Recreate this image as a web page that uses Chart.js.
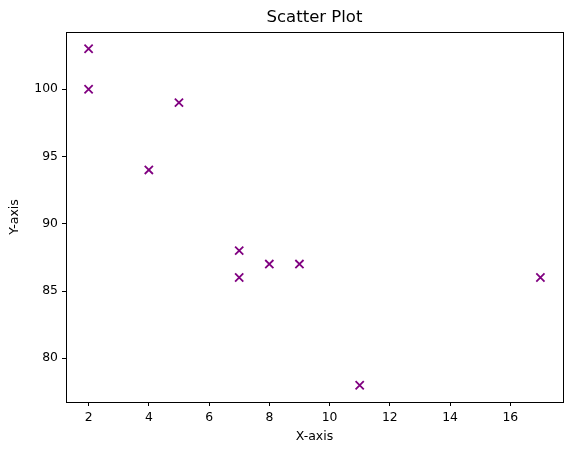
<!DOCTYPE html>
<html>
<head>
<meta charset="utf-8">
<script src="https://cdn.jsdelivr.net/npm/chart.js@4"></script>
<style>
  html, body { margin: 0; padding: 0; background: #fff; }
  #wrap { width: 571px; height: 455px; }
</style>
</head>
<body>
<div id="wrap"><canvas id="chart-area"></canvas></div>
<script>
var xValues = [2, 2, 4, 5, 7, 7, 8, 9, 11, 17];
var yValues = [103, 100, 94, 99, 88, 86, 87, 87, 78, 86];
var xTicks  = [2, 4, 6, 8, 10, 12, 14, 16];
var yTicks  = [80, 85, 90, 95, 100];

var points = [];
for (var i = 0; i < xValues.length; ++i)
    points.push({x: xValues[i], y: yValues[i]});

var font = "'DejaVu Sans', sans-serif";

// frame + titles, placed like the matplotlib figure
var decor = {
    id: 'decor',
    afterDraw: function (chart) {
        var c = chart.ctx, a = chart.chartArea;
        c.save();
        c.strokeStyle = '#000';
        c.lineWidth = 1;
        c.strokeRect(Math.round(a.left) + 0.5, Math.round(a.top) + 0.5,
                     Math.round(a.right - a.left), Math.round(a.bottom - a.top));
        c.fillStyle = '#000';
        c.textAlign = 'center';
        c.textBaseline = 'middle';
        var cx = (a.left + a.right) / 2;
        c.font = '16.5px ' + font;
        c.fillText('Scatter Plot', cx, 18);
        c.font = '12.5px ' + font;
        c.fillText('X-axis', cx, 437);
        c.translate(15, (a.top + a.bottom) / 2);
        c.rotate(-Math.PI / 2);
        c.fillText('Y-axis', 0, 0);
        c.restore();
    }
};

var config = {
    type: 'scatter',
    data: {
        datasets: [{
            data: points,
            pointStyle: 'crossRot',
            pointRadius: 5.8,
            pointHoverRadius: 5.8,
            borderColor: '#800080',
            backgroundColor: '#800080',
            borderWidth: 1.8
        }]
    },
    options: {
        responsive: true,
        maintainAspectRatio: false,
        animation: false,
        layout: { padding: { left: 0, right: 8, top: 32, bottom: 0 } },
        plugins: { legend: { display: false }, tooltip: { enabled: false } },
        scales: {
            x: {
                type: 'linear',
                min: 1.25,
                max: 17.75,
                afterFit: function (s) { s.height = 53; },
                afterBuildTicks: function (s) {
                    s.ticks = xTicks.map(function (v) { return {value: v}; });
                },
                grid: { drawOnChartArea: false, tickLength: 4, tickColor: '#000' },
                border: { color: '#000' },
                ticks: { color: '#000', padding: 4, font: { family: font, size: 12.4 }, maxRotation: 0 }
            },
            y: {
                min: 76.75,
                max: 104.25,
                afterFit: function (s) { s.width = 66; },
                afterBuildTicks: function (s) {
                    s.ticks = yTicks.map(function (v) { return {value: v}; });
                },
                grid: { drawOnChartArea: false, tickLength: 4, tickColor: '#000' },
                border: { color: '#000' },
                ticks: { color: '#000', padding: 4, font: { family: font, size: 12.4 } }
            }
        }
    },
    plugins: [decor]
};

var ctx = document.getElementById('chart-area').getContext('2d');
window.myScatter = new Chart(ctx, config);
</script>
</body>
</html>
